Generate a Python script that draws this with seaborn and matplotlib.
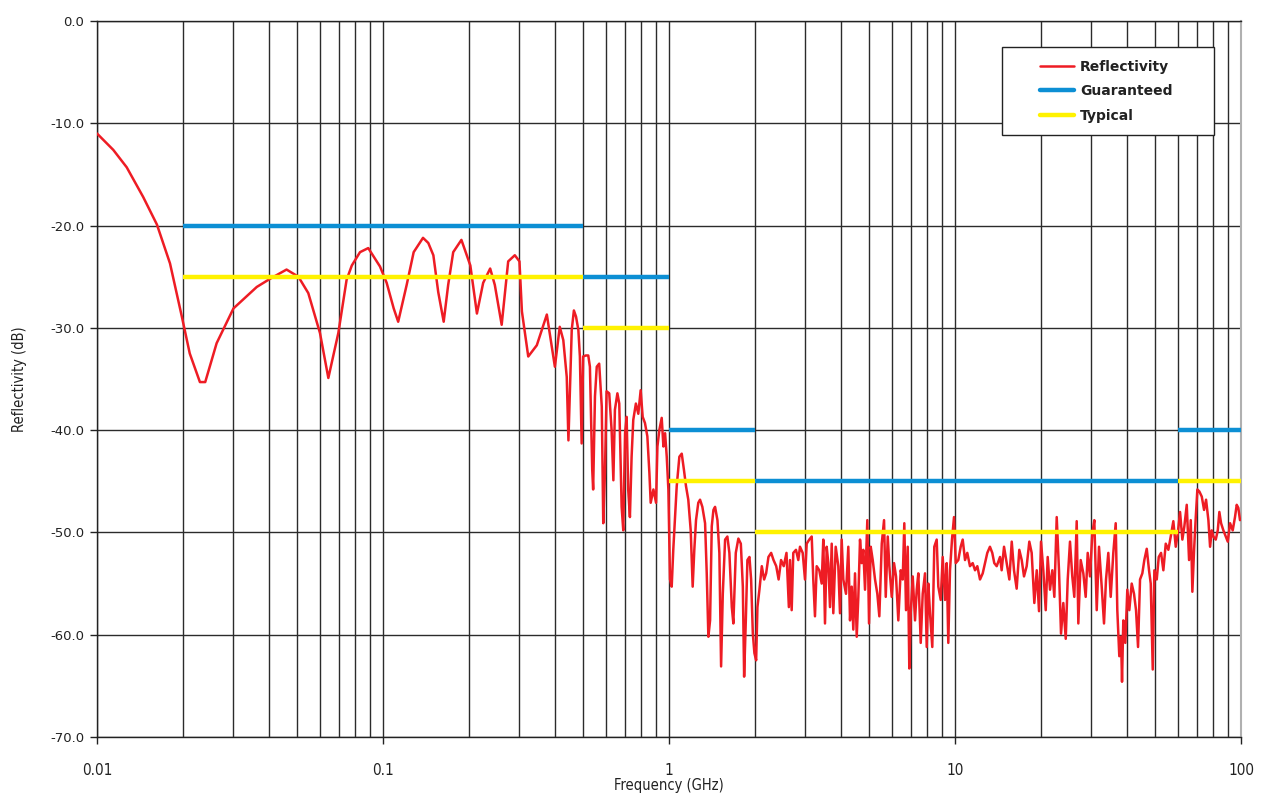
import matplotlib
matplotlib.use("Agg")
import numpy as np
import pandas as pd
import matplotlib.pyplot as plt
import seaborn as sns
from matplotlib.lines import Line2D
from matplotlib.patches import Rectangle
from matplotlib.ticker import LogLocator, NullFormatter
from matplotlib import font_manager

# ---------------- data ----------------
# Reflectivity, low band (smooth part)
freq_low = [0.0100, 0.0105, 0.0114, 0.0127, 0.0145, 0.0162, 0.0180, 0.0198, 0.0211, 0.0229,
            0.0239, 0.0262, 0.0300, 0.0362, 0.0403, 0.0460, 0.0506, 0.0548, 0.0602, 0.0644,
            0.0698, 0.0746, 0.0778, 0.0831, 0.0888, 0.0976, 0.103, 0.109, 0.113, 0.121,
            0.128, 0.138, 0.144, 0.150, 0.156, 0.163, 0.169, 0.176, 0.188, 0.202,
            0.213, 0.224, 0.237, 0.246, 0.260, 0.274, 0.289, 0.300, 0.306, 0.322,
            0.345, 0.374, 0.399, 0.415]
refl_low = [-11.0, -11.6, -12.6, -14.3, -17.2, -19.9, -23.7, -28.9, -32.5, -35.3,
            -35.3, -31.5, -28.1, -26.0, -25.2, -24.3, -25.0, -26.6, -30.5, -34.9,
            -30.5, -25.3, -23.9, -22.6, -22.2, -24.0, -25.6, -28.1, -29.4, -25.8,
            -22.6, -21.2, -21.7, -22.9, -26.5, -29.4, -25.8, -22.6, -21.4, -23.9,
            -28.6, -25.6, -24.2, -25.8, -29.7, -23.5, -22.9, -23.5, -28.4, -32.8,
            -31.7, -28.7, -33.8, -29.9]

# Reflectivity, mid band (0.42 - 2.6 GHz)
freq_mid = [0.427, 0.439, 0.445, 0.457, 0.465, 0.473, 0.482, 0.488, 0.495, 0.501,
            0.512, 0.522, 0.529, 0.539, 0.543, 0.551, 0.559, 0.570, 0.582, 0.589,
            0.597, 0.605, 0.618, 0.630, 0.639, 0.647, 0.660, 0.670, 0.683, 0.692,
            0.702, 0.711, 0.720, 0.730, 0.740, 0.750, 0.766, 0.781, 0.796, 0.809,
            0.824, 0.840, 0.854, 0.863, 0.882, 0.901, 0.911, 0.925, 0.943, 0.956,
            0.969, 0.982, 0.995, 1.008, 1.022, 1.035, 1.050, 1.064, 1.087, 1.108,
            1.128, 1.147, 1.168, 1.191, 1.210, 1.226, 1.243, 1.266, 1.284, 1.308,
            1.337, 1.355, 1.373, 1.392, 1.411, 1.430, 1.449, 1.477, 1.500, 1.521,
            1.542, 1.571, 1.600, 1.626, 1.658, 1.679, 1.712, 1.748, 1.783, 1.812,
            1.831, 1.856, 1.880, 1.911, 1.937, 1.964, 1.989, 2.017, 2.038, 2.071,
            2.111, 2.151, 2.186, 2.227, 2.276, 2.320, 2.371, 2.417, 2.465, 2.519,
            2.575, 2.625]
refl_mid = [-31.2, -34.8, -41.0, -30.2, -28.3, -28.9, -30.2, -32.8, -41.3, -32.8,
            -32.7, -32.7, -33.8, -43.9, -45.8, -36.7, -33.8, -33.5, -37.7, -49.1,
            -44.2, -36.2, -36.4, -40.0, -44.9, -38.0, -36.4, -37.4, -47.5, -49.8,
            -40.3, -38.7, -45.8, -48.5, -42.6, -39.0, -37.4, -38.4, -36.1, -38.7,
            -39.3, -40.6, -44.2, -47.1, -45.8, -47.1, -41.6, -40.0, -38.8, -41.6,
            -40.3, -42.6, -45.8, -54.6, -55.3, -51.7, -48.5, -45.5, -42.6, -42.3,
            -43.9, -45.5, -46.8, -49.8, -55.3, -51.7, -48.8, -47.1, -46.8, -47.5,
            -49.1, -54.0, -60.2, -58.6, -49.4, -47.8, -47.5, -48.8, -52.0, -63.1,
            -56.0, -50.7, -50.4, -52.0, -57.3, -58.9, -52.0, -50.6, -51.1, -55.3,
            -64.1, -58.6, -52.7, -52.4, -54.6, -59.9, -61.8, -62.5, -57.3, -55.6,
            -53.3, -54.6, -54.0, -52.4, -52.0, -52.7, -53.3, -54.6, -52.7, -53.3,
            -52.0, -57.3]

# Reflectivity, high band (2.6 - 100 GHz)
freq_high = [2.649, 2.685, 2.720, 2.780, 2.832, 2.871, 2.934, 2.989, 3.030, 3.094,
             3.155, 3.195, 3.239, 3.284, 3.353, 3.419, 3.463, 3.511, 3.559, 3.606,
             3.655, 3.706, 3.754, 3.827, 3.908, 3.962, 4.016, 4.069, 4.158, 4.236,
             4.295, 4.354, 4.410, 4.471, 4.533, 4.592, 4.655, 4.719, 4.780, 4.846,
             4.937, 5.005, 5.074, 5.156, 5.253, 5.351, 5.438, 5.545, 5.648, 5.726,
             5.819, 5.894, 6.009, 6.121, 6.220, 6.336, 6.459, 6.564, 6.649, 6.741,
             6.834, 6.922, 7.001, 7.115, 7.248, 7.348, 7.443, 7.588, 7.711, 7.855,
             7.964, 8.067, 8.178, 8.329, 8.464, 8.630, 8.743, 8.913, 9.057, 9.226,
             9.354, 9.475, 9.605, 9.761, 9.920, 10.06, 10.27, 10.47, 10.64, 10.84,
             11.04, 11.28, 11.53, 11.75, 11.97, 12.23, 12.50, 12.73, 12.97, 13.25,
             13.50, 13.72, 13.99, 14.37, 14.56, 14.84, 15.16, 15.49, 15.79, 16.08,
             16.43, 16.78, 17.11, 17.43, 17.81, 18.19, 18.54, 18.94, 19.31, 19.67,
             19.99, 20.36, 20.76, 21.09, 21.49, 21.89, 22.25, 22.68, 23.10, 23.48,
             23.92, 24.39, 24.78, 25.24, 25.71, 26.13, 26.64, 26.99, 27.51, 28.10,
             28.64, 29.11, 29.65, 30.21, 30.70, 31.30, 31.88, 32.58, 33.19, 33.73,
             34.36, 35.03, 35.77, 36.47, 36.94, 37.54, 38.06, 38.37, 38.77, 39.40,
             40.04, 40.69, 41.48, 42.26, 42.95, 43.65, 44.36, 45.19, 45.92, 46.82,
             47.69, 48.35, 49.14, 49.78, 50.74, 51.57, 52.54, 53.52, 54.56, 55.72,
             56.80, 58.00, 59.13, 60.10, 61.22, 62.37, 63.38, 64.61, 65.83, 66.73,
             67.60, 68.54, 69.48, 70.38, 71.52, 72.92, 74.28, 75.48, 76.91, 77.96,
             79.04, 80.05, 81.61, 82.94, 84.01, 85.18, 86.77, 88.46, 89.90, 91.57,
             93.54, 95.28, 96.61, 97.86, 99.2]
refl_high = [-52.7, -57.6, -52.0, -51.7, -52.7, -51.4, -52.0, -54.6, -51.1, -50.7,
             -50.4, -54.6, -58.2, -53.3, -53.7, -55.0, -50.7, -58.9, -51.4, -53.0,
             -57.3, -51.1, -57.9, -51.4, -53.3, -57.9, -50.7, -54.6, -56.0, -51.4,
             -58.6, -55.3, -59.5, -54.0, -60.2, -56.3, -50.7, -53.0, -51.7, -55.6,
             -48.8, -58.9, -51.4, -52.7, -54.6, -56.0, -58.2, -51.1, -48.8, -56.3,
             -50.4, -53.3, -56.3, -53.0, -54.3, -58.6, -53.7, -54.6, -49.1, -57.6,
             -51.4, -63.3, -57.9, -54.3, -58.6, -55.6, -54.0, -60.8, -56.0, -54.0,
             -61.2, -55.0, -57.9, -61.2, -51.4, -50.7, -55.3, -56.6, -52.4, -56.6,
             -53.0, -60.8, -53.7, -50.7, -48.5, -53.0, -52.7, -51.4, -50.7, -52.7,
             -52.0, -53.3, -53.0, -53.7, -53.3, -54.6, -54.0, -53.0, -52.0, -51.4,
             -52.0, -53.0, -53.3, -52.4, -53.7, -51.4, -53.0, -54.6, -50.9, -53.7,
             -55.5, -51.7, -52.7, -54.3, -53.3, -50.9, -52.0, -56.9, -53.7, -57.7,
             -50.9, -53.7, -57.6, -52.4, -55.6, -53.7, -56.3, -48.5, -53.7, -59.9,
             -56.9, -60.4, -54.6, -50.9, -54.3, -56.3, -48.9, -58.9, -52.7, -54.0,
             -56.3, -52.0, -54.3, -50.1, -48.8, -57.6, -51.4, -55.3, -58.9, -54.6,
             -52.0, -56.3, -52.0, -49.1, -57.6, -62.1, -60.2, -64.6, -58.6, -60.8,
             -55.6, -57.6, -55.0, -56.0, -57.6, -61.2, -54.6, -54.0, -52.7, -51.6,
             -53.7, -55.0, -63.4, -53.7, -54.6, -52.4, -52.0, -53.7, -51.1, -51.7,
             -50.4, -48.9, -51.4, -50.1, -48.0, -50.7, -49.4, -47.3, -52.7, -48.8,
             -55.8, -51.7, -48.5, -45.8, -46.0, -46.5, -47.8, -46.8, -48.8, -51.4,
             -49.8, -50.4, -50.7, -49.8, -48.0, -49.1, -49.8, -50.4, -50.9, -49.1,
             -49.8, -48.5, -47.3, -47.6, -48.8]

# Specification step segments: (start GHz, end GHz, level dB)
guar_start = [0.02, 0.5, 1.0, 2.0, 60.0]
guar_end   = [0.5, 1.0, 2.0, 60.0, 100.0]
guar_level = [-20, -25, -40, -45, -40]
typ_start = [0.02, 0.5, 1.0, 2.0, 60.0]
typ_end   = [0.5, 1.0, 2.0, 60.0, 100.0]
typ_level = [-25, -30, -45, -50, -45]

series_labels = ["Reflectivity", "Guaranteed", "Typical"]
x_ticks = [0.01, 0.1, 1, 10, 100]
x_tick_labels = ["0.01", "0.1", "1", "10", "100"]
y_ticks = [0, -10, -20, -30, -40, -50, -60, -70]
y_tick_labels = ["0.0", "-10.0", "-20.0", "-30.0", "-40.0", "-50.0", "-60.0", "-70.0"]

RED = "#ee1c24"
BLUE = "#0c8fd4"
YELLOW = "#fff200"
INK = "#222222"

# ---------------- styling ----------------
sns.set_style("white")
plt.rcParams["font.family"] = ["DejaVu Sans"]
names = {f.name for f in font_manager.fontManager.ttflist}
if "Liberation Sans Narrow" in names:
    narrow_kw = {"fontfamily": ["Liberation Sans Narrow", "DejaVu Sans"]}
else:
    narrow_kw = {"fontfamily": ["DejaVu Sans"], "fontstretch": "condensed"}

fig = plt.figure(figsize=(12.69, 7.96), dpi=100)
ax = fig.add_axes([97 / 1269, 59 / 796, 1144 / 1269, 716 / 796])

refl_df = pd.DataFrame({"freq": freq_low + freq_mid + freq_high,
                        "refl": refl_low + refl_mid + refl_high})

def seg_frame(starts, ends, levels):
    rows = []
    for i, (a, b, lv) in enumerate(zip(starts, ends, levels)):
        rows.append({"freq": a, "level": lv, "seg": i})
        rows.append({"freq": b, "level": lv, "seg": i})
    return pd.DataFrame(rows)

guar_df = seg_frame(guar_start, guar_end, guar_level)
typ_df = seg_frame(typ_start, typ_end, typ_level)

ax.set_xscale("log")
sns.lineplot(data=refl_df, x="freq", y="refl", ax=ax, color=RED, lw=1.8,
             estimator=None, sort=False, zorder=3)
sns.lineplot(data=guar_df, x="freq", y="level", units="seg", estimator=None,
             ax=ax, color=BLUE, lw=3.2, zorder=4, solid_capstyle="butt")
sns.lineplot(data=typ_df, x="freq", y="level", units="seg", estimator=None,
             ax=ax, color=YELLOW, lw=3.2, zorder=4.5, solid_capstyle="butt")

ax.set_xlim(0.01, 100)
ax.set_ylim(-70, 0)

ax.set_xticks(x_ticks)
ax.set_xticklabels(x_tick_labels, fontsize=11, color=INK, **narrow_kw)
ax.xaxis.set_minor_locator(LogLocator(base=10, subs=range(2, 10), numticks=20))
ax.xaxis.set_minor_formatter(NullFormatter())
ax.set_yticks(y_ticks)
ax.set_yticklabels(y_tick_labels, fontsize=9.5, color=INK)

ax.set_axisbelow(True)
ax.grid(True, which="both", axis="x", color="#2b2b2b", lw=1.0)
ax.grid(True, which="major", axis="y", color="#2b2b2b", lw=1.0)

ax.tick_params(axis="x", which="major", bottom=True, length=5, width=1, color=INK,
               direction="out", pad=14)
ax.tick_params(axis="x", which="minor", bottom=False, length=0)
ax.tick_params(axis="y", which="major", left=True, length=5, width=1, color=INK,
               direction="out", pad=4)

for s in ["left", "bottom", "top"]:
    ax.spines[s].set_color(INK)
    ax.spines[s].set_linewidth(1.0)
ax.spines["right"].set_color("#b0b0b0")
ax.spines["right"].set_linewidth(1.5)

ax.set_xlabel("Frequency (GHz)", fontsize=10.5, color=INK, labelpad=0, **narrow_kw)
ax.set_ylabel("Reflectivity (dB)", fontsize=10.5, color=INK, labelpad=17, **narrow_kw)

# legend
ax.add_patch(Rectangle((0.7911, 0.8408), 0.1853, 0.1229, transform=ax.transAxes,
                       facecolor="white", edgecolor=INK, lw=1.0, zorder=5, clip_on=False))
handles = [Line2D([], [], color=RED, lw=1.8),
           Line2D([], [], color=BLUE, lw=3.2, solid_capstyle="round"),
           Line2D([], [], color=YELLOW, lw=3.2, solid_capstyle="round")]
leg = ax.legend(handles, series_labels, loc="center", bbox_to_anchor=(0.882, 0.902),
                frameon=False, prop={"weight": "bold", "size": 10}, handlelength=2.5,
                handletextpad=0.4, labelspacing=0.75, borderaxespad=0)
for t in leg.get_texts():
    t.set_color(INK)
leg.set_zorder(6)

fig.savefig("out.png", dpi=100)
